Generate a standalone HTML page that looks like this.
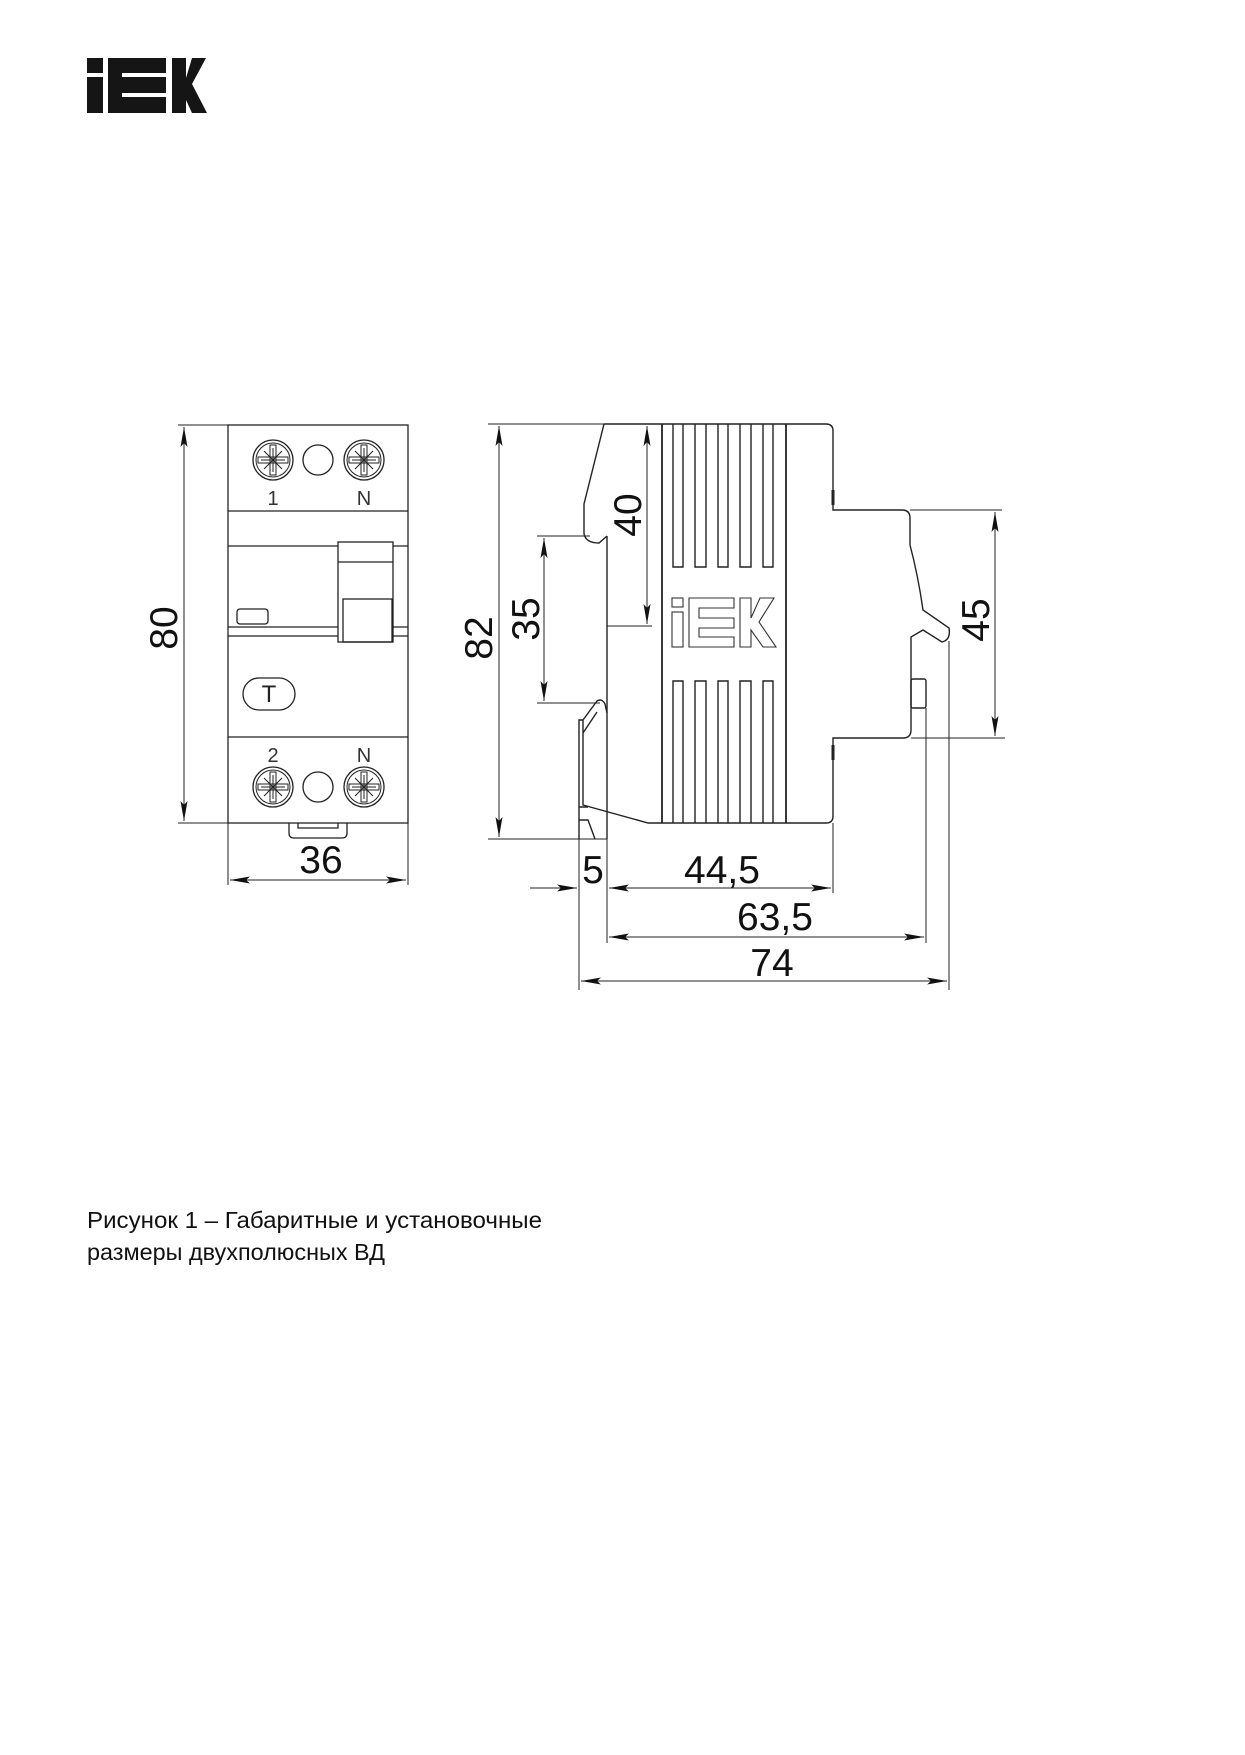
<!DOCTYPE html>
<html><head><meta charset="utf-8"><style>html,body{margin:0;padding:0;background:#fff}svg{display:block}</style></head>
<body>
<svg width="1245" height="1755" viewBox="0 0 1245 1755" xmlns="http://www.w3.org/2000/svg">
<defs>
<marker id="a" viewBox="0 0 20 8" refX="20" refY="4" markerWidth="20" markerHeight="8" markerUnits="userSpaceOnUse" orient="auto-start-reverse"><path d="M0,0.5 L20,4 L0,7.5 L4,4 Z" fill="#111"/></marker>
<g id="scr">
<circle r="20" fill="none" stroke="#222" stroke-width="1.3"/>
<circle r="17" fill="none" stroke="#222" stroke-width="1"/>
<rect x="-3" y="-15" width="6" height="30" fill="none" stroke="#222" stroke-width="1"/>
<rect x="-15" y="-3" width="30" height="6" fill="none" stroke="#222" stroke-width="1"/>
<path d="M-9,-9 L9,9 M9,-9 L-9,9 M0,-12 L0,12 M-12,0 L12,0" stroke="#222" stroke-width="1"/>
</g>
</defs>
<g fill="#151515">
<rect x="87" y="58" width="16" height="15"/>
<rect x="87" y="77" width="16" height="36"/>
<path d="M108,58 H166 V73 H122 V77 H166 V93 H122 V97 H166 V113 H108 Z"/>
<path d="M172,58 H186 V78 L192,58 H206 L192,84 L207,113 H192 L186,100 V113 H172 Z"/>
</g>

<g fill="none" stroke="#222" stroke-width="1.3">
<rect x="228" y="425" width="180" height="398"/>
<line x1="228" y1="511" x2="408" y2="511"/>
<line x1="228" y1="546" x2="408" y2="546"/>
<line x1="228" y1="627" x2="408" y2="627"/>
<line x1="228" y1="636" x2="408" y2="636"/>
<line x1="228" y1="737" x2="408" y2="737"/>
<rect x="338" y="542" width="55" height="100" fill="#fff"/>
<line x1="338" y1="562" x2="393" y2="562"/>
<rect x="343" y="599" width="49" height="43"/>
<rect x="237" y="609" width="31" height="15" rx="3"/>
<rect x="243" y="678" width="52" height="32" rx="16"/>
<circle cx="318" cy="460" r="15"/>
<circle cx="318" cy="787" r="15"/>
<path d="M289,823 V833 Q289,838 294,838 H342 Q347,838 347,833 V823"/>
<path d="M298,823 V828 H338 V823"/>
</g>
<text x="269" y="702" font-family="Liberation Sans, sans-serif" font-size="24" text-anchor="middle" fill="#222">T</text>
<use href="#scr" x="273" y="460"/><use href="#scr" x="364" y="460"/>
<use href="#scr" x="273" y="787"/><use href="#scr" x="364" y="787"/>
<g font-family="Liberation Sans, sans-serif" font-size="20" fill="#333" text-anchor="middle">
<text x="273" y="505">1</text><text x="364" y="505">N</text>
<text x="273" y="762">2</text><text x="364" y="762">N</text>
</g>

<g fill="none" stroke="#222" stroke-width="1">
<line x1="178" y1="425" x2="228" y2="425"/>
<line x1="178" y1="823" x2="228" y2="823"/>
<line x1="184" y1="427" x2="184" y2="821" marker-start="url(#a)" marker-end="url(#a)"/>
<line x1="228" y1="823" x2="228" y2="885"/>
<line x1="408" y1="823" x2="408" y2="885"/>
<line x1="230" y1="880" x2="406" y2="880" marker-start="url(#a)" marker-end="url(#a)"/>
</g>

<g fill="none" stroke="#222" stroke-width="1.4">
<path d="M604,424 L826,424 Q833,424 833,431 L833,510 L902,510 Q910,510 910,518 L910,545 Q918,575 923,610 L949,628 Q951,640 942,642 L923,630 L911,637 L911,730 Q911,738 903,738 L833,738 L833,816 Q833,823 826,823 L648,823 L583,805 L583,720"/>
<path d="M604,424 L584,504 L584,534 Q586,543 599,543 L607,536"/>
<path d="M583,720 L597,701 Q602,698 605,704 L607,713 M583,733 L597,712"/>
<line x1="607" y1="536" x2="607" y2="839"/>
<path d="M579,839 V720 L583,720 M579,807 H588 M579,820 H588 L595,839"/>
<line x1="662" y1="424" x2="662" y2="823" stroke-width="1.8"/>
<line x1="786" y1="424" x2="786" y2="823" stroke-width="1.8"/>
<path d="M673,424 V567 H683 V424 M695,424 V567 H706 V424 M718,424 V567 H728 V424 M740,424 V567 H751 V424 M763,424 V567 H773 V424"/>
<path d="M673,823 V681 H683 V823 M695,823 V681 H706 V823 M718,823 V681 H728 V823 M740,823 V681 H751 V823 M763,823 V681 H773 V823"/>
<rect x="911" y="679" width="15" height="29" rx="2"/>
<line x1="833" y1="490" x2="833" y2="505" stroke-width="3"/>
<line x1="833" y1="745" x2="833" y2="760" stroke-width="3"/>
</g>
<g fill="none" stroke="#333" stroke-width="1.1">
<rect x="672" y="598" width="11" height="9"/>
<rect x="672" y="612" width="11" height="35"/>
<path d="M689,598 H734 V608 H699 V618 H734 V628 H699 V637 H734 V647 H689 Z"/>
<path d="M740,598 H751 V618 L760,598 H774 L759,622 L776,647 H763 L751,630 V647 H740 Z"/>
</g>

<g fill="none" stroke="#222" stroke-width="1">
<line x1="488" y1="424" x2="604" y2="424"/>
<line x1="488" y1="839" x2="607" y2="839"/>
<line x1="499" y1="426" x2="499" y2="837" marker-start="url(#a)" marker-end="url(#a)"/>
<line x1="647" y1="426" x2="647" y2="624" marker-start="url(#a)" marker-end="url(#a)"/>
<line x1="607" y1="626" x2="652" y2="626"/>
<line x1="537" y1="536" x2="590" y2="536"/>
<line x1="537" y1="703" x2="600" y2="703"/>
<line x1="544" y1="538" x2="544" y2="701" marker-start="url(#a)" marker-end="url(#a)"/>
<line x1="910" y1="510" x2="1002" y2="510"/>
<line x1="911" y1="738" x2="1005" y2="738"/>
<line x1="995" y1="512" x2="995" y2="736" marker-start="url(#a)" marker-end="url(#a)"/>
<line x1="833" y1="823" x2="833" y2="893"/>
<line x1="926" y1="708" x2="926" y2="943"/>
<line x1="949" y1="641" x2="949" y2="990"/>
<line x1="579" y1="839" x2="579" y2="990"/>
<line x1="607" y1="839" x2="607" y2="943"/>
<line x1="530" y1="888" x2="577" y2="888" marker-end="url(#a)"/>
<line x1="609" y1="888" x2="831" y2="888" marker-start="url(#a)" marker-end="url(#a)"/>
<line x1="609" y1="937" x2="924" y2="937" marker-start="url(#a)" marker-end="url(#a)"/>
<line x1="581" y1="981" x2="947" y2="981" marker-start="url(#a)" marker-end="url(#a)"/>
</g>

<g font-family="Liberation Sans, sans-serif" font-size="39" fill="#111" text-anchor="middle">
<text x="321" y="873">36</text>
<text transform="translate(177,628) rotate(-90)">80</text>
<text transform="translate(492,638) rotate(-90)">82</text>
<text transform="translate(539,619) rotate(-90)">35</text>
<text transform="translate(641,515) rotate(-90)">40</text>
<text transform="translate(989,620) rotate(-90)">45</text>
<text x="593" y="883">5</text>
<text x="722" y="883">44,5</text>
<text x="775" y="930">63,5</text>
<text x="772" y="976">74</text>
</g>

<g font-family="Liberation Sans, sans-serif" font-size="23" fill="#111">
<text x="87" y="1228" textLength="455" lengthAdjust="spacingAndGlyphs">Рисунок  1  –  Габаритные  и  установочные</text>
<text x="87" y="1260" textLength="298" lengthAdjust="spacingAndGlyphs">размеры  двухполюсных  ВД</text>
</g>
</svg>
</body></html>
